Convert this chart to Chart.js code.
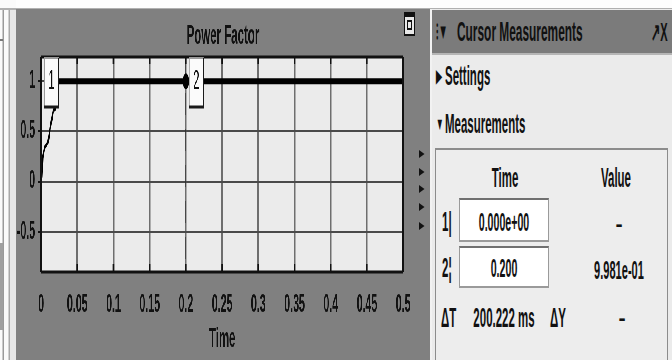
<!DOCTYPE html>
<html>
<head>
<meta charset="utf-8">
<script src="https://cdn.jsdelivr.net/npm/chart.js@4.4.1/dist/chart.umd.min.js"></script>
<style>
  html, body { margin: 0; padding: 0; width: 672px; height: 360px; overflow: hidden; background: #fdfdfd; }
  #stage { position: absolute; left: 0; top: 0; width: 1344px; height: 360px; transform: scaleX(0.5); transform-origin: 0 0;
           font-family: "Liberation Sans", Arial, sans-serif; color: #111; }
  .abs { position: absolute; }
  .t { position: absolute; white-space: nowrap; font-weight: bold; font-size: 26px; line-height: 1; }
  .c { transform: translate(-50%, -50%) scaleX(0.85); }
  .l { transform: translate(0, -50%) scaleX(0.85); transform-origin: 0 50%; }
  #chartWrap { position: absolute; left: 32px; top: 9px; width: 974px; height: 351px; background: #808080;
               transform: scaleX(0.85); transform-origin: 0 0; }
  .tri { position: absolute; width: 0; height: 0; border-top: 4px solid transparent; border-bottom: 4px solid transparent; border-left: 11px solid #111; }
</style>
</head>
<body>
<div id="stage">
  <!-- left strip -->
  <div class="abs" style="left:0;top:0;width:32px;height:360px;background:#fafafa;"></div>
  <div class="abs" style="left:5px;top:9px;width:3px;height:351px;background:#9a9a9a;"></div>
  <div class="abs" style="left:0;top:243px;width:6px;height:87px;background:#a0a0a0;"></div>
  <div class="abs" style="left:0;top:39px;width:6px;height:2px;background:#777;"></div>
  <div class="abs" style="left:17px;top:9px;width:3px;height:351px;background:#a8a8a8;"></div>
  <div class="abs" style="left:20px;top:9px;width:12px;height:351px;background:#e6e6e6;"></div>
  <div class="abs" style="left:0;top:8px;width:1344px;height:2px;background:#b0b0b0;"></div>

  <div id="chartWrap"><canvas id="chart"></canvas></div>

  <!-- scope icon -->
  <div class="abs" style="left:808px;top:12px;width:18px;height:17px;border:2px solid #111;background:#e8e8e8;border-top-width:5px;"></div>
  <div class="abs" style="left:814px;top:20px;width:6px;height:6px;border:2px solid #111;"></div>

  <!-- side triangles -->
  <div class="tri" style="left:838px;top:150px;"></div>
  <div class="tri" style="left:838px;top:168px;"></div>
  <div class="tri" style="left:838px;top:185px;"></div>
  <div class="tri" style="left:838px;top:203px;"></div>
  <div class="tri" style="left:838px;top:222px;"></div>

  <!-- right panel -->
  <div class="abs" style="left:860px;top:9px;width:4px;height:351px;background:#f2f2f2;"></div>
  <div class="abs" style="left:864px;top:9px;width:480px;height:351px;background:#ebebeb;"></div>
  <div class="abs" style="left:864px;top:10px;width:480px;height:43px;background:#7b7b7b;border-bottom:2px solid #b5b5b5;"></div>
  <div class="t l" style="left:872px;top:32px;font-size:22px;">⁝▼</div>
  <div class="t l" style="left:914px;top:32px;font-size:28px;">Cursor Measurements</div>
  <div class="t l" style="left:1302px;top:32px;font-size:26px;">↗X</div>

  <div class="t l" style="left:872px;top:76px;font-size:18px;">▶</div>
  <div class="t l" style="left:890px;top:76px;font-size:27px;">Settings</div>
  <div class="t l" style="left:872px;top:124px;font-size:18px;">▼</div>
  <div class="t l" style="left:890px;top:124px;font-size:27px;">Measurements</div>

  <div class="abs" style="left:870px;top:148px;width:462px;height:220px;border:2px solid #8c8c8c;background:#ededed;"></div>
  <div id="table"></div>
</div>

<script>
// ---- data ----
const chartTitle = 'Power Factor';
const xAxisTitle = 'Time';
const timeValues  = [0, 0.001, 0.0023, 0.005, 0.0095, 0.0115, 0.0124, 0.0148, 0.017, 0.019, 0.021, 0.023, 0.025, 0.05, 0.1, 0.15, 0.2, 0.25, 0.3, 0.35, 0.4, 0.45, 0.5];
const powerFactor = [0, 0.05, 0.24, 0.34, 0.39, 0.47, 0.53, 0.62, 0.71, 0.72, 0.85, 0.96, 0.998, 0.998, 0.998, 0.998, 0.9981, 0.998, 0.998, 0.998, 0.998, 0.998, 0.998];
const xTicks = [0, 0.05, 0.1, 0.15, 0.2, 0.25, 0.3, 0.35, 0.4, 0.45, 0.5];
const xTickLabels = ['0', '0.05', '0.1', '0.15', '0.2', '0.25', '0.3', '0.35', '0.4', '0.45', '0.5'];
const yTicks = [-0.5, 0, 0.5, 1];
const yTickLabels = ['-0.5', '0', '0.5', '1'];
const cursorTimes = [0, 0.2];
const cursorNames = ['1', '2'];
const cursorTimeText = ['0.000e+00', '0.200'];
const cursorValueText = ['–', '9.981e-01'];
const deltaTText = '200.222 ms';
const deltaYText = '–';

const FONT = '"Liberation Sans", Arial, sans-serif';

// ---- measurement table (HTML text) ----
(function buildTable() {
  const t = document.getElementById('table');
  let html = '';
  html += '<div class="t c" style="left:1010px;top:178px;font-size:27px;">Time</div>';
  html += '<div class="t c" style="left:1232px;top:178px;font-size:27px;">Value</div>';
  const rowY = [222, 268];
  const boxTop = [198, 246];
  const boxH = [44, 42];
  const marks = ['|', '¦'];
  for (let i = 0; i < cursorNames.length; i++) {
    html += '<div class="abs" style="left:918px;top:' + boxTop[i] + 'px;width:176px;height:' + (boxH[i] - 4) + 'px;background:#fff;border:2px solid #9a9a9a;border-top-color:#707070;"></div>';
    html += '<div class="t l" style="left:884px;top:' + rowY[i] + 'px;font-size:27px;">' + cursorNames[i] + marks[i] + '</div>';
    html += '<div class="t c" style="left:1008px;top:' + rowY[i] + 'px;font-size:25px;">' + cursorTimeText[i] + '</div>';
    html += '<div class="t c" style="left:1238px;top:' + (rowY[i] + 2) + 'px;font-size:26px;">' + cursorValueText[i] + '</div>';
  }
  html += '<div class="t l" style="left:882px;top:318px;font-size:27px;">ΔT</div>';
  html += '<div class="t c" style="left:1008px;top:318px;font-size:27px;">' + deltaTText + '</div>';
  html += '<div class="t l" style="left:1100px;top:318px;font-size:27px;">ΔY</div>';
  html += '<div class="t c" style="left:1244px;top:318px;">' + deltaYText + '</div>';
  t.innerHTML = html;
})();

// ---- plugins ----
const plotBg = {
  id: 'plotBg',
  beforeDraw(chart) {
    const { ctx, chartArea: a } = chart;
    ctx.save();
    ctx.fillStyle = '#ebebeb';
    ctx.fillRect(a.left, a.top, a.right - a.left, a.bottom - a.top);
    ctx.restore();
  }
};

const frame = {
  id: 'frame',
  afterDatasetsDraw(chart) {
    const { ctx, chartArea: a, scales } = chart;
    ctx.save();
    ctx.strokeStyle = '#111';
    ctx.lineWidth = 3.5;
    xTicks.forEach(v => {
      const px = scales.x.getPixelForValue(v);
      ctx.beginPath();
      ctx.moveTo(px, a.top); ctx.lineTo(px, a.top + 7);
      ctx.moveTo(px, a.bottom); ctx.lineTo(px, a.bottom - 8);
      ctx.stroke();
    });
    ctx.lineWidth = 3;
    ctx.beginPath();
    ctx.moveTo(a.left, a.top); ctx.lineTo(a.right, a.top);
    ctx.moveTo(a.left, a.bottom); ctx.lineTo(a.right, a.bottom);
    ctx.stroke();
    ctx.lineWidth = 4.7;
    ctx.beginPath();
    ctx.moveTo(a.left, a.top); ctx.lineTo(a.left, a.bottom);
    ctx.moveTo(a.right, a.top); ctx.lineTo(a.right, a.bottom);
    ctx.stroke();
    ctx.restore();
  }
};

const cursors = {
  id: 'cursors',
  afterDatasetsDraw(chart) {
    const { ctx, chartArea: a, scales } = chart;
    ctx.save();
    cursorTimes.forEach((tv, i) => {
      const px = scales.x.getPixelForValue(tv);
      ctx.strokeStyle = '#111';
      ctx.lineWidth = 2.4;
      ctx.setLineDash(i === 0 ? [] : [22, 14]);
      ctx.beginPath();
      ctx.moveTo(px, a.top); ctx.lineTo(px, a.bottom);
      ctx.stroke();
      ctx.setLineDash([]);
      const idx = timeValues.indexOf(tv);
      if (i > 0 && idx >= 0) {
        const py = scales.y.getPixelForValue(powerFactor[idx]);
        ctx.fillStyle = '#000';
        ctx.beginPath();
        ctx.ellipse(px, py, 7, 8, 0, 0, Math.PI * 2);
        ctx.fill();
      }
      const bx = px + 8, bw = 33, by = a.top + 1, bh = 49;
      ctx.fillStyle = '#fbfbfb';
      ctx.fillRect(bx, by, bw, bh);
      ctx.strokeStyle = '#9a9a9a';
      ctx.lineWidth = 2;
      ctx.strokeRect(bx, by, bw, bh);
      ctx.strokeStyle = '#1a1a1a';
      ctx.lineWidth = 3;
      ctx.beginPath();
      ctx.moveTo(bx, by + bh); ctx.lineTo(bx + bw, by + bh); ctx.lineTo(bx + bw, by);
      ctx.stroke();
      ctx.fillStyle = '#111';
      ctx.font = '27px ' + FONT;
      ctx.textAlign = 'center';
      ctx.textBaseline = 'middle';
      ctx.fillText(cursorNames[i], bx + bw / 2, scales.y.getPixelForValue(1));
    });
    ctx.restore();
  }
};

const points = timeValues.map((t, i) => ({ x: t, y: powerFactor[i] }));

new Chart(document.getElementById('chart'), {
  type: 'line',
  data: {
    datasets: [{
      label: chartTitle,
      data: points,
      borderColor: '#000',
      borderWidth: 3.5,
      pointRadius: 0,
      tension: 0,
      fill: false,
      segment: {
        borderWidth: c => (c.p0.parsed.y > 0.99 && c.p1.parsed.y > 0.99) ? 6 : 3.5
      }
    }]
  },
  options: {
    responsive: true,
    maintainAspectRatio: false,
    animation: false,
    layout: { padding: 0 },
    plugins: {
      legend: { display: false },
      tooltip: { enabled: false },
      title: {
        display: true, text: chartTitle, color: '#111',
        font: { family: FONT, size: 27, weight: 'bold', lineHeight: 1.2 },
        padding: { top: 11, bottom: 4.6 }
      }
    },
    scales: {
      x: {
        type: 'linear', min: 0, max: 0.5,
        afterBuildTicks: s => { s.ticks = xTicks.map(v => ({ value: v })); },
        afterFit: s => { s.height = 88; },
        ticks: {
          callback: (v, i) => xTickLabels[i], color: '#111', autoSkip: false, maxRotation: 0,
          font: { family: FONT, size: 25, weight: 'bold', lineHeight: 1.2 }, padding: 18
        },
        grid: { color: '#6e6e6e', lineWidth: 3.5, drawTicks: false },
        border: { display: false },
        title: {
          display: true, text: xAxisTitle, color: '#111',
          font: { family: FONT, size: 27, weight: 'bold', lineHeight: 1.2 },
          padding: { top: 0, bottom: 4 }
        }
      },
      y: {
        min: -0.9, max: 1.24,
        afterBuildTicks: s => { s.ticks = yTicks.map(v => ({ value: v })); },
        afterFit: s => { s.width = 59; },
        ticks: {
          callback: (v, i) => yTickLabels[i], color: '#111',
          font: { family: FONT, size: 25, weight: 'bold', lineHeight: 1.2 }, padding: 7
        },
        grid: { color: '#4a4a4a', lineWidth: 2, tickLength: 7, tickColor: '#111', tickWidth: 2 },
        border: { display: false }
      },
      yRight: {
        position: 'right',
        min: -0.9, max: 1.24,
        afterFit: s => { s.width = 63; },
        ticks: { display: false },
        grid: { display: false, drawOnChartArea: false },
        border: { display: false }
      }
    }
  },
  plugins: [plotBg, frame, cursors]
});
</script>
</body>
</html>
